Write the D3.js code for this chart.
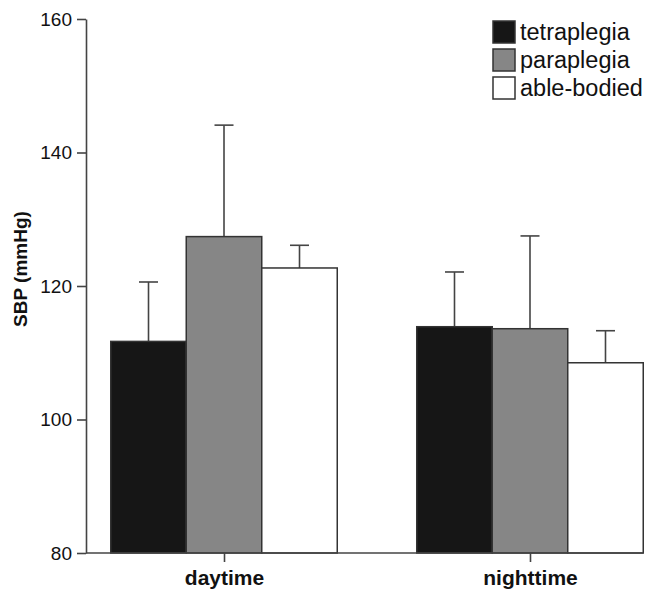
<!DOCTYPE html>
<html>
<head>
<meta charset="utf-8">
<script src="https://cdn.jsdelivr.net/npm/d3@7"></script>
<style>
  body { margin: 0; background: #fff; }
  text { font-family: Arial, "Liberation Sans", Helvetica, sans-serif; }
</style>
</head>
<body>
<svg id="chart" width="646" height="592"></svg>
<script>
// data
var periods = ['daytime', 'nighttime']
var groups = ['tetraplegia', 'paraplegia', 'able-bodied']
var means = {
  tetraplegia: [111.7, 113.9],
  paraplegia: [127.4, 113.6],
  'able-bodied': [122.7, 108.5]
}
var errTop = {
  tetraplegia: [120.6, 122.1],
  paraplegia: [144.1, 127.5],
  'able-bodied': [126.1, 113.3]
}
var yTicks = [80, 100, 120, 140, 160]

var fills = { tetraplegia: '#161616', paraplegia: '#868686', 'able-bodied': '#ffffff' }

var svg = d3.select('#chart')

var y = d3.scaleLinear().domain([80, 160]).range([553, 19])
// group centres, axis runs off the right edge of the cropped figure
var x = d3.scalePoint().domain(periods).range([86, 668]).padding(0.451)
var barW = 75.5
var capW = 19

// y axis
var yAxis = svg.append('g')
  .attr('transform', 'translate(86,0)')
  .call(d3.axisLeft(y).tickValues(yTicks).tickSize(9).tickPadding(5).tickSizeOuter(0))
yAxis.select('.domain').attr('stroke', '#444').attr('stroke-width', 1.6)
yAxis.selectAll('.tick line').attr('stroke', '#444').attr('stroke-width', 1.6)
yAxis.selectAll('.tick text')
  .attr('font-size', 19).attr('fill', '#111')

// error bars (drawn first so bar outlines sit on top)
groups.forEach((g, gi) => {
  periods.forEach((p, pi) => {
    var cx = x(p) + (gi - 1) * barW
    var e = svg.append('g').attr('stroke', '#444').attr('stroke-width', 1.6)
    e.append('line').attr('x1', cx).attr('x2', cx).attr('y1', y(means[g][pi])).attr('y2', y(errTop[g][pi]))
    e.append('line').attr('x1', cx - capW / 2).attr('x2', cx + capW / 2).attr('y1', y(errTop[g][pi])).attr('y2', y(errTop[g][pi]))
  })
})

// bars
groups.forEach((g, gi) => {
  svg.append('g').selectAll('rect')
    .data(periods)
    .join('rect')
    .attr('x', p => x(p) + (gi - 1.5) * barW)
    .attr('width', barW)
    .attr('y', (p, i) => y(means[g][i]))
    .attr('height', (p, i) => y(80) - y(means[g][i]))
    .attr('fill', fills[g])
    .attr('stroke', '#333')
    .attr('stroke-width', 1.5)
})

// x axis
var xAxis = svg.append('g')
  .attr('transform', 'translate(0,553)')
  .call(d3.axisBottom(x).tickSize(9).tickPadding(8).tickSizeOuter(0))
xAxis.select('.domain').attr('stroke', '#444').attr('stroke-width', 1.6)
  .attr('d', 'M86,0H' + (x(periods[1]) + 1.5 * barW))
xAxis.selectAll('.tick line').attr('stroke', '#444').attr('stroke-width', 1.6)
xAxis.selectAll('.tick text')
  .attr('font-size', 21).attr('font-weight', 'bold').attr('fill', '#111')

// y label
svg.append('text')
  .attr('transform', 'translate(27,269) rotate(-90)')
  .attr('text-anchor', 'middle')
  .attr('font-size', 19)
  .attr('font-weight', 'bold')
  .attr('fill', '#111')
  .text('SBP (mmHg)')

// legend
var legend = svg.append('g').attr('transform', 'translate(493,21)')
groups.forEach((g, i) => {
  var row = legend.append('g').attr('transform', 'translate(0,' + i * 28 + ')')
  row.append('rect').attr('width', 22).attr('height', 22)
    .attr('fill', fills[g]).attr('stroke', '#333').attr('stroke-width', 1.5)
  row.append('text').attr('x', 27).attr('y', 19)
    .attr('font-size', 23.5).attr('fill', '#111')
    .text(g)
})
</script>
</body>
</html>
